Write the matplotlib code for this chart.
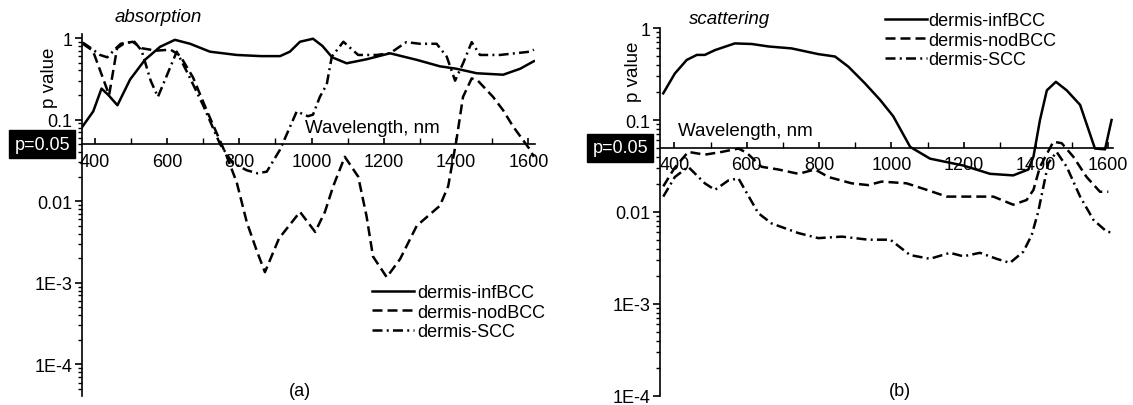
import numpy as np
import matplotlib
matplotlib.use("Agg")
import matplotlib.pyplot as plt
from matplotlib.ticker import FixedLocator, FixedFormatter, MultipleLocator, LogLocator, NullFormatter
import matplotlib.transforms as mtransforms

plt.rcParams['font.family'] = ['Liberation Sans', 'DejaVu Sans']

# ---- data ----
series_names = ["dermis-infBCC", "dermis-nodBCC", "dermis-SCC"]

# (a) absorption
abs_inf_x = [367, 396, 419, 438, 463, 498, 539, 581, 622, 664, 719, 793, 860, 913, 940,
             968, 1004, 1030, 1057, 1097, 1153, 1217, 1291, 1355, 1401, 1457, 1530, 1577, 1615]
abs_inf_y = [0.083, 0.126, 0.24, 0.20, 0.15, 0.31, 0.54, 0.78, 0.95, 0.85, 0.68, 0.62, 0.60, 0.60, 0.68,
             0.90, 0.98, 0.80, 0.58, 0.49, 0.55, 0.65, 0.54, 0.45, 0.42, 0.37, 0.355, 0.42, 0.52]

abs_nod_x = [367, 395, 420, 440, 462, 480, 505, 530, 570, 610, 636, 672, 710, 765, 793, 821, 848, 871,
             910, 968, 1010, 1037, 1060, 1092, 1129, 1152, 1170, 1208, 1245, 1291, 1355, 1378, 1401,
             1419, 1443, 1460, 1502, 1530, 1557, 1604, 1615]
abs_nod_y = [0.85, 0.7, 0.35, 0.2, 0.75, 0.85, 0.9, 0.75, 0.7, 0.72, 0.61, 0.33, 0.13, 0.036, 0.017,
             0.0055, 0.0025, 0.00135, 0.0035, 0.0074, 0.0042, 0.0074, 0.0153, 0.035, 0.02, 0.0066,
             0.0021, 0.00117, 0.00196, 0.005, 0.0088, 0.0153, 0.057, 0.19, 0.32, 0.3, 0.19, 0.13,
             0.083, 0.043, 0.035]

abs_scc_x = [367, 390, 415, 435, 455, 472, 490, 510, 530, 555, 575, 600, 627, 660, 700, 747, 780, 820,
             850, 876, 913, 959, 990, 1004, 1023, 1042, 1056, 1088, 1129, 1180, 1217, 1262, 1300, 1346,
             1374, 1397, 1420, 1443, 1466, 1521, 1604, 1615]
abs_scc_y = [0.88, 0.75, 0.62, 0.58, 0.72, 0.85, 0.88, 0.9, 0.7, 0.3, 0.19, 0.35, 0.68, 0.35, 0.15,
             0.05, 0.03, 0.024, 0.022, 0.023, 0.043, 0.126, 0.11, 0.115, 0.19, 0.27, 0.59, 0.9, 0.62,
             0.62, 0.65, 0.89, 0.85, 0.85, 0.59, 0.3, 0.5, 0.89, 0.62, 0.62, 0.68, 0.72]

# (b) scattering
sca_inf_x = [369, 401, 434, 462, 484, 512, 567, 614, 660, 724, 798, 844, 881, 927, 969, 1005, 1052,
             1107, 1199, 1273, 1337, 1379, 1393, 1411, 1430, 1455, 1485, 1522, 1563, 1591, 1609]
sca_inf_y = [0.195, 0.32, 0.45, 0.51, 0.51, 0.575, 0.68, 0.67, 0.63, 0.6, 0.52, 0.49, 0.38, 0.25, 0.165,
             0.11, 0.051, 0.038, 0.032, 0.026, 0.025, 0.029, 0.04, 0.1, 0.21, 0.26, 0.21, 0.146,
             0.049, 0.048, 0.1]

sca_nod_x = [369, 400, 438, 484, 531, 577, 600, 641, 687, 743, 789, 826, 890, 936, 973, 1042, 1098,
             1153, 1208, 1282, 1337, 1374, 1393, 1411, 1448, 1471, 1503, 1540, 1577, 1600]
sca_nod_y = [0.019, 0.03, 0.045, 0.042, 0.045, 0.049, 0.044, 0.031, 0.029, 0.026, 0.029, 0.024, 0.0205,
             0.0196, 0.0214, 0.0205, 0.0174, 0.0147, 0.0147, 0.0147, 0.012, 0.0135, 0.0174, 0.031,
             0.058, 0.056, 0.04, 0.024, 0.0166, 0.0166]

sca_scc_x = [369, 401, 438, 484, 512, 549, 577, 595, 632, 669, 743, 798, 863, 936, 997, 1052, 1107,
             1162, 1199, 1245, 1291, 1328, 1365, 1388, 1406, 1434, 1457, 1485, 1522, 1559, 1596, 1610]
sca_scc_y = [0.0147, 0.024, 0.031, 0.0205, 0.0174, 0.022, 0.0232, 0.0174, 0.0097, 0.0075, 0.0059,
             0.0052, 0.0054, 0.005, 0.005, 0.0034, 0.0031, 0.0036, 0.0033, 0.0036, 0.0031, 0.0028,
             0.0037, 0.0056, 0.010, 0.034, 0.045, 0.031, 0.0147, 0.0082, 0.0061, 0.006]

ytick_vals = [1e-4, 1e-3, 1e-2, 1e-1, 1]
ytick_labels = ["1E-4", "1E-3", "0.01", "0.1", "1"]

# ---- figure ----
W, H = 1133, 406
fig = plt.figure(figsize=(W / 100, H / 100), dpi=100)


def px_axes(l, t, r, b):
    return fig.add_axes([l / W, 1 - b / H, (r - l) / W, (b - t) / H])


lw = 1.8
styles = ["-", (0, (4.0, 2.0)), (0, (4.0, 1.7, 0.8, 1.7))]
FS = 13


def setup(ax, xlim, ylim, title, tx, ty, ylab_xy, wl_x, wl_y, letter_xy):
    ax.set_yscale("log")
    ax.set_xlim(*xlim)
    ax.set_ylim(*ylim)
    for s in ["top", "right"]:
        ax.spines[s].set_visible(False)
    ax.spines["bottom"].set_position(("data", 0.05))
    ax.spines["bottom"].set_linewidth(1.2)
    ax.spines["left"].set_linewidth(1.2)
    ax.patch.set_alpha(0)

    ax.yaxis.set_major_locator(FixedLocator(ytick_vals))
    ax.yaxis.set_major_formatter(FixedFormatter(ytick_labels))
    ax.yaxis.set_minor_locator(LogLocator(base=10, subs=np.arange(2, 10)))
    ax.yaxis.set_minor_formatter(NullFormatter())
    ax.tick_params(axis="y", which="major", direction="out", length=5, width=1.2,
                   labelsize=FS, pad=2)
    ax.tick_params(axis="y", which="minor", direction="out", length=3, width=1.0)

    ax.xaxis.set_major_locator(MultipleLocator(200))
    ax.xaxis.set_minor_locator(MultipleLocator(100))
    ax.tick_params(axis="x", which="major", direction="in", length=4, width=1.2,
                   labelsize=FS, pad=6)
    ax.tick_params(axis="x", which="minor", direction="in", length=4, width=1.0)

    fig.text(tx / W, 1 - ty / H, title, style="italic", fontsize=FS + 0.5,
             ha="center", va="center")
    fig.text(ylab_xy[0] / W, 1 - ylab_xy[1] / H, "p value", rotation=90, fontsize=FS + 0.5,
             ha="center", va="center")
    ax.text(wl_x, wl_y, "Wavelength, nm", fontsize=FS + 0.5, ha="center", va="center")
    fig.text(letter_xy[0] / W, 1 - letter_xy[1] / H, letter_xy[2], fontsize=FS,
             ha="center", va="center")

    trans = mtransforms.blended_transform_factory(ax.transAxes, ax.transData)
    off = mtransforms.ScaledTranslation(-12 / 100, 0, fig.dpi_scale_trans)
    ax.text(0, 0.05, "p=0.05", transform=trans + off, color="white", fontsize=FS,
            ha="right", va="center",
            bbox=dict(boxstyle="square,pad=0.3", fc="black", ec="black"))


# panel (a)
ax_a = px_axes(82, 35, 534.6, 397)
setup(ax_a, (365, 1617), (4.1e-5, 1.12), "absorption", 158, 18, (50, 78),
      1167, 0.08, (300, 392, "(a)"))
ax_a.plot(abs_inf_x, abs_inf_y, color="black", lw=lw, linestyle=styles[0], label=series_names[0])
ax_a.plot(abs_nod_x, abs_nod_y, color="black", lw=lw, linestyle=styles[1], label=series_names[1])
ax_a.plot(abs_scc_x, abs_scc_y, color="black", lw=lw, linestyle=styles[2], label=series_names[2])
ax_a.legend(loc="upper left", bbox_to_anchor=(372 / W, 1 - 285 / H), bbox_transform=fig.transFigure,
            frameon=False, fontsize=FS, handlelength=2.3, handletextpad=0.2, labelspacing=0.15,
            borderpad=0, borderaxespad=0)

# panel (b)
ax_b = px_axes(660, 29, 1113, 397)
setup(ax_b, (360, 1613), (1e-4, 1), "scattering", 730, 20, (633, 72),
      595, 0.077, (900, 392, "(b)"))
ax_b.plot(sca_inf_x, sca_inf_y, color="black", lw=lw, linestyle=styles[0], label=series_names[0])
ax_b.plot(sca_nod_x, sca_nod_y, color="black", lw=lw, linestyle=styles[1], label=series_names[1])
ax_b.plot(sca_scc_x, sca_scc_y, color="black", lw=lw, linestyle=styles[2], label=series_names[2])
ax_b.legend(loc="upper left", bbox_to_anchor=(885 / W, 1 - 13 / H), bbox_transform=fig.transFigure,
            frameon=False, fontsize=FS, handlelength=2.3, handletextpad=0.1, labelspacing=0.15,
            borderpad=0, borderaxespad=0)

fig.savefig("out.png", dpi=100)
